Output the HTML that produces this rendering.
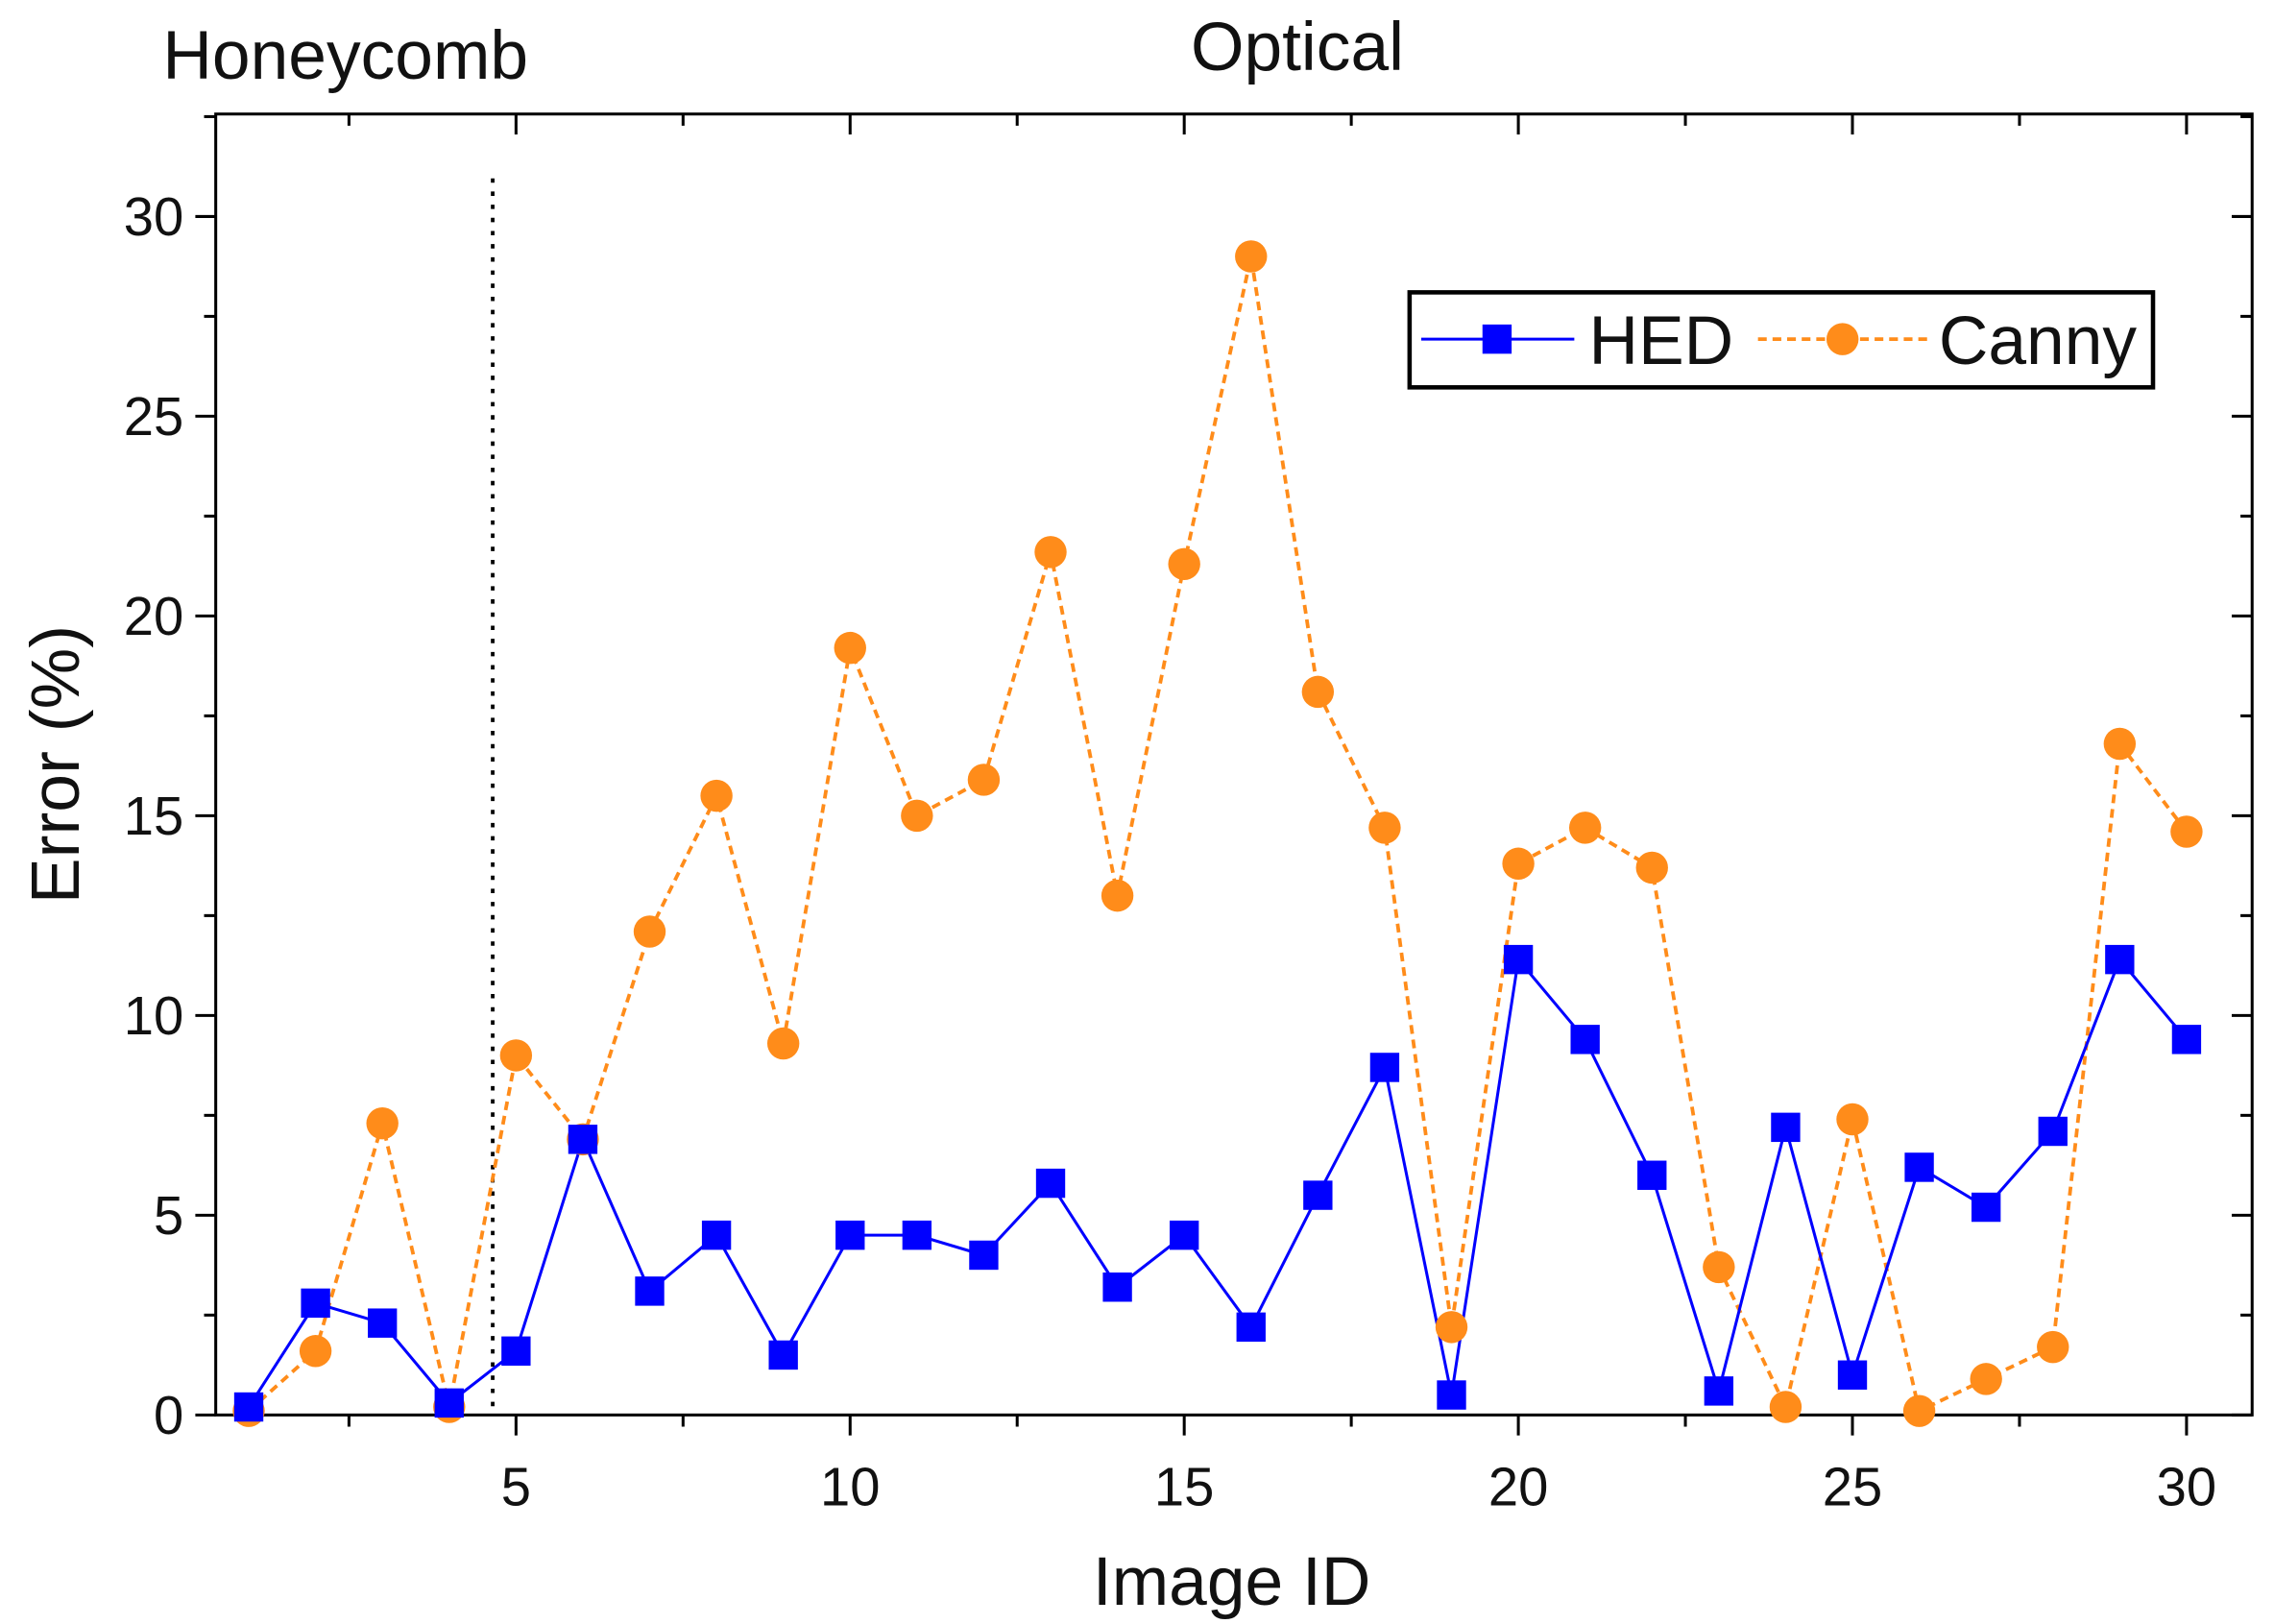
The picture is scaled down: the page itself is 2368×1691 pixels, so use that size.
<!DOCTYPE html>
<html><head><meta charset="utf-8"><style>
html,body{margin:0;padding:0;background:#fff;}
svg{display:block;}
text{font-family:"Liberation Sans",Arial,sans-serif;fill:#111;}
</style></head><body>
<svg id="s" width="2368" height="1691" viewBox="0 0 1560 1111" preserveAspectRatio="none" xmlns="http://www.w3.org/2000/svg">
</svg>
<script>
const s=document.getElementById('s');
const L=148,R=1545,T=78,B=968;
const X=v=>354+(v-5)*45.84, Y=v=>968-v*27.33;
let h='';
h+=`<rect x="${L}" y="${T}" width="${R-L}" height="${B-T}" fill="none" stroke="#000" stroke-width="2"/>`;
for(let v=0;v<=32.5;v+=2.5){const y=Y(v);if(y<T)continue;const len=(v%5==0)?14:8;
h+=`<line x1="${L-len}" y1="${y}" x2="${L}" y2="${y}" stroke="#000" stroke-width="2"/>`;
h+=`<line x1="${R-len}" y1="${y}" x2="${R}" y2="${y}" stroke="#000" stroke-width="2"/>`;
if(v%5==0)h+=`<text x="${L-22}" y="${y+13}" font-size="37" text-anchor="end">${v}</text>`;}
for(let v=2.5;v<=30;v+=2.5){const x=X(v);const len=(v%5==0)?14:8;
h+=`<line x1="${x}" y1="${B}" x2="${x}" y2="${B+len}" stroke="#000" stroke-width="2"/>`;
h+=`<line x1="${x}" y1="${T}" x2="${x}" y2="${T+len}" stroke="#000" stroke-width="2"/>`;
if(v%5==0)h+=`<text x="${x}" y="${B+62}" font-size="37" text-anchor="middle">${v}</text>`;}
h+=`<line x1="338" y1="122" x2="338" y2="${B}" stroke="#000" stroke-width="2.5" stroke-dasharray="3,6"/>`;
h+=`<text x="845" y="1098" font-size="47" text-anchor="middle">Image ID</text>`;
h+=`<text transform="translate(54,523) rotate(-90)" font-size="47" text-anchor="middle">Error (%)</text>`;
h+=`<text x="237" y="54" font-size="47" text-anchor="middle">Honeycomb</text>`;
h+=`<text x="890" y="48" font-size="47" text-anchor="middle">Optical</text>`;
const hed=[0.2,2.8,2.3,0.3,1.6,6.9,3.1,4.5,1.5,4.5,4.5,4.0,5.8,3.2,4.5,2.2,5.5,8.7,0.5,11.4,9.4,6.0,0.6,7.2,1.0,6.2,5.2,7.1,11.4,9.4];
const can=[0.1,1.6,7.3,0.2,9.0,6.9,12.1,15.5,9.3,19.2,15.0,15.9,21.6,13.0,21.3,29.0,18.1,14.7,2.2,13.8,14.7,13.7,3.7,0.2,7.4,0.1,0.9,1.7,16.8,14.6];
h+=`<polyline fill="none" stroke="#ff8c1a" stroke-width="2.5" stroke-dasharray="6,4" points="${can.map((v,i)=>X(i+1)+','+Y(v)).join(' ')}"/>`;
h+=`<polyline fill="none" stroke="#0000ff" stroke-width="2" points="${hed.map((v,i)=>X(i+1)+','+Y(v)).join(' ')}"/>`;
can.forEach((v,i)=>h+=`<circle cx="${X(i+1)}" cy="${Y(v)}" r="11" fill="#ff8c1a"/>`);
hed.forEach((v,i)=>h+=`<rect x="${X(i+1)-10}" y="${Y(v)-10}" width="20" height="20" fill="#0000ff"/>`);
h+=`<rect x="967" y="200" width="510" height="65" fill="#fff" stroke="#000" stroke-width="3"/>`;
h+=`<line x1="975" y1="232" x2="1080" y2="232" stroke="#0000ff" stroke-width="2"/><rect x="1017" y="222" width="20" height="20" fill="#0000ff"/>`;
h+=`<text x="1090" y="249" font-size="47">HED</text>`;
h+=`<line x1="1206" y1="232" x2="1322" y2="232" stroke="#ff8c1a" stroke-width="2.5" stroke-dasharray="6,4"/><circle cx="1264" cy="232" r="11" fill="#ff8c1a"/>`;
h+=`<text x="1330" y="249" font-size="47">Canny</text>`;
s.innerHTML=h;
</script>
</body></html>
